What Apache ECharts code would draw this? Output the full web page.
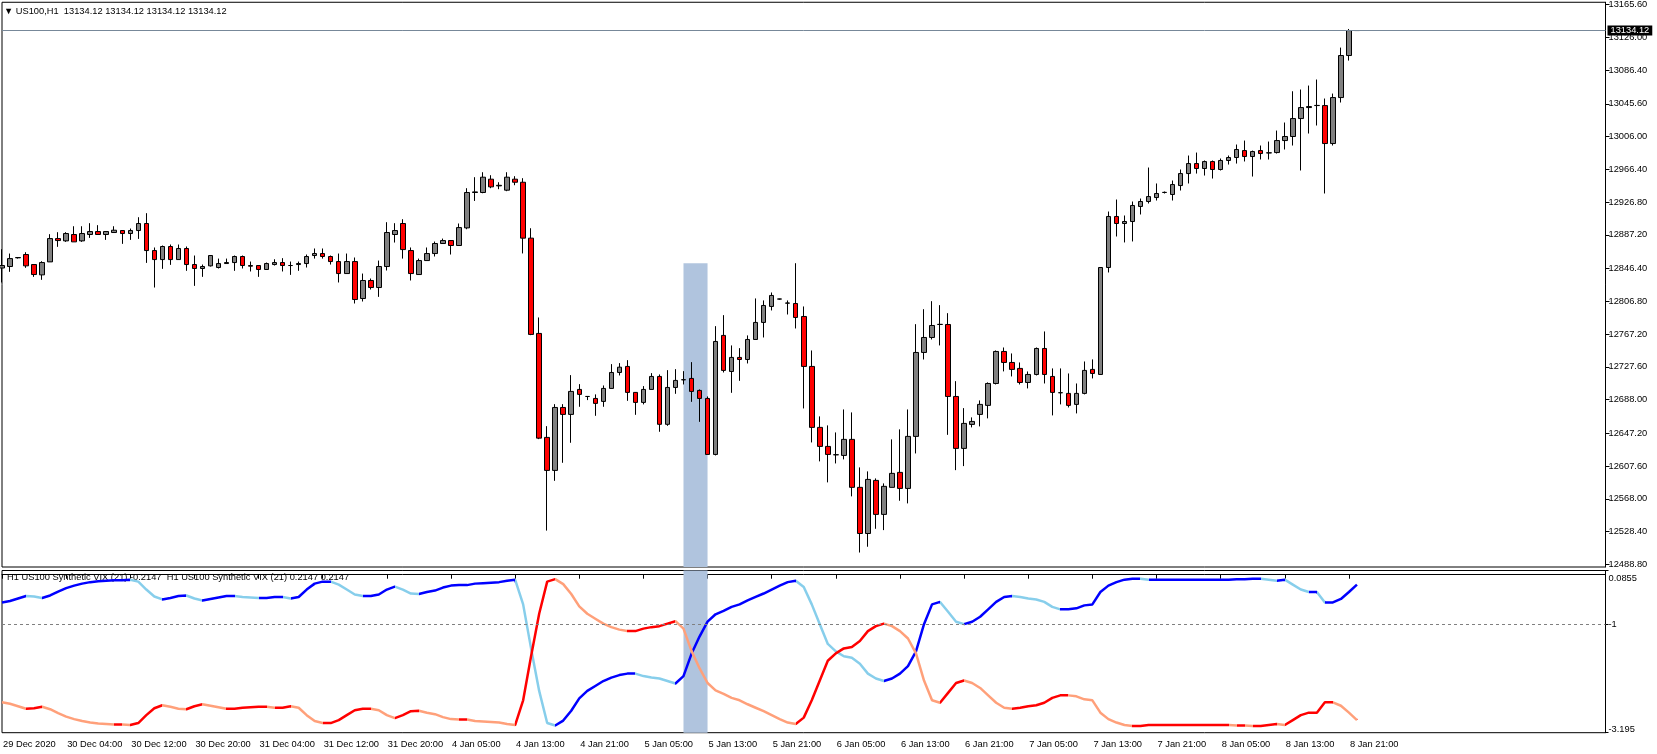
<!DOCTYPE html>
<html><head><meta charset="utf-8">
<script src="https://cdn.jsdelivr.net/npm/echarts@6/dist/echarts.min.js"></script>
<style>html,body{margin:0;padding:0;background:#fff;}#c{width:1657px;height:754px;}</style>
</head><body><div id="c"></div>
<script>
// ---------- data ----------
const timeLabels = ['29 Dec 2020','30 Dec 04:00','30 Dec 12:00','30 Dec 20:00','31 Dec 04:00','31 Dec 12:00','31 Dec 20:00',
  '4 Jan 05:00','4 Jan 13:00','4 Jan 21:00','5 Jan 05:00','5 Jan 13:00','5 Jan 21:00','6 Jan 05:00','6 Jan 13:00',
  '6 Jan 21:00','7 Jan 05:00','7 Jan 13:00','7 Jan 21:00','8 Jan 05:00','8 Jan 13:00','8 Jan 21:00'];
const barsPerLabel = 8;
const totalSlots = 201;

const opens = [12847,12848.8,12859.3,12863.3,12851.2,12838.7,12854.4,12882.6,12879.8,12887.5,
12879.8,12887.5,12891.1,12887.5,12889.9,12892.3,12888.7,12892.3,12900.8,12868.1,
12857.2,12873.0,12857.2,12870.6,12851.2,12846.4,12849.6,12847.6,12852.4,12853.6,
12860.9,12850.0,12850.0,12845.2,12851.2,12853.6,12850.0,12851.2,12852.4,12862.1,
12864.5,12860.9,12854.8,12840.3,12854.8,12810.1,12831.9,12823.4,12848.8,12887.5,
12900.8,12868.1,12839.1,12856.0,12864.5,12876.6,12880.2,12874.2,12895.5,12938.3,
12938.3,12954.4,12946.3,12941.1,12954.4,12950.7,12883.1,12767.9,12642.2,12602.3,
12678.4,12670.0,12700.2,12691.7,12689.3,12685.7,12701.4,12720.7,12728.0,12696.6,
12684.5,12700.2,12715.9,12658.0,12702.6,12711.8,12713.5,12699.0,12689.3,12621.6,
12765.5,12721.9,12738.9,12736.4,12760.6,12781.2,12800.5,12809.4,12804.5,12804.1,
12788.4,12728.0,12654.3,12631.3,12621.1,12620.4,12639.8,12581.8,12526.0,12590.2,
12549.1,12581.8,12599.9,12580.5,12643.4,12744.9,12763.0,12778.7,12778.7,12691.7,
12628.9,12657.9,12670.0,12680.9,12707.4,12746.1,12732.8,12725.6,12708.6,12718.3,
12749.7,12715.9,12696.1,12695.4,12682.1,12695.4,12724.4,12718.3,12847.6,12909.3,
12900.8,12903.2,12921.4,12927.4,12932.2,12938.3,12935.9,12946.7,12961.2,12973.3,
12967.3,12975.7,12966.1,12977.0,12980.6,12989.0,12981.8,12989.0,12986.1,12986.6,
13001.1,13006.0,13027.7,13041.0,13043.4,13043.4,12997.5,13053.1,13103.9,13134.12];
const closes = [12850,12858.4,12859.7,12849.6,12839.1,12853.6,12882.6,12880.2,12888.7,12878.6,
12888.7,12891.1,12887.5,12891.1,12892.7,12888.7,12892.3,12900.8,12868.1,12857.2,
12873.0,12857.2,12870.6,12851.2,12846.4,12848.8,12862.1,12852.4,12853.6,12860.9,
12850.0,12849.2,12845.2,12852.4,12853.6,12850.0,12850.0,12852.4,12860.9,12864.5,
12860.9,12854.8,12840.3,12854.8,12808.9,12831.9,12823.4,12848.8,12889.9,12892.3,
12869.3,12840.3,12856.0,12864.5,12876.6,12880.2,12874.2,12895.9,12938.3,12939.0,
12956.8,12945.1,12947.0,12956.8,12950.7,12883.1,12766.7,12641.3,12602.3,12678.4,
12670.0,12697.8,12694.2,12691.7,12683.3,12701.4,12720.7,12727.1,12696.6,12684.5,
12700.2,12715.9,12658.0,12702.6,12711.1,12712.0,12697.8,12689.3,12621.6,12758.2,
12723.2,12738.9,12736.4,12760.6,12781.2,12801.7,12813.8,12809.6,12804.7,12787.2,
12728.0,12654.3,12631.3,12621.6,12621.3,12639.8,12581.8,12526.0,12591.4,12549.1,
12583.0,12598.7,12580.5,12643.4,12744.9,12763.0,12777.5,12778.9,12691.7,12628.9,
12659.1,12661.5,12682.1,12707.4,12746.1,12732.8,12724.4,12708.6,12718.3,12749.7,
12718.3,12696.6,12696.3,12680.9,12695.4,12723.2,12719.5,12847.6,12909.3,12900.8,
12903.2,12922.6,12927.4,12933.4,12937.1,12938.5,12947.9,12961.2,12973.3,12967.3,
12975.7,12966.1,12977.0,12980.6,12990.3,12981.8,12987.8,12985.4,12986.3,13001.1,
13006.0,13027.7,13041.0,13042.2,13043.6,12997.5,13053.1,13103.9,13134.1,13134.12];
const highs = [12869.7,12864.5,12860.1,12866.1,12851.6,12855.2,12887.9,12890.3,12890.3,12897.5,
12897.5,12901.2,12898.8,12891.5,12897.5,12892.7,12894.7,12908.4,12913.3,12871.8,
12874.2,12875.4,12875.4,12873.0,12862.1,12851.2,12862.5,12858.4,12858.4,12862.1,
12862.1,12854.8,12850.4,12853.6,12857.6,12858.9,12854.8,12854.8,12863.3,12870.6,
12870.6,12862.1,12864.5,12864.5,12859.7,12840.3,12834.3,12856.0,12902.4,12901.2,
12906.0,12871.8,12858.4,12871.8,12879.0,12882.6,12880.6,12900.8,12943.5,12956.8,
12962.8,12959.2,12950.7,12962.8,12958.0,12955.6,12895.1,12787.2,12655.8,12682.4,
12682.4,12717.5,12706.6,12692.1,12694.2,12705.0,12730.8,12732.0,12735.6,12696.9,
12704.2,12719.9,12718.3,12723.5,12724.7,12722.3,12733.2,12700.2,12691.7,12776.7,
12790.0,12753.4,12750.1,12765.5,12810.2,12807.8,12817.4,12809.9,12807.8,12852.8,
12800.5,12747.3,12667.6,12656.7,12648.2,12676.0,12672.4,12605.9,12601.1,12592.6,
12586.6,12639.8,12651.9,12676.0,12779.1,12797.2,12806.9,12802.1,12792.4,12710.2,
12677.6,12666.4,12686.9,12708.7,12747.3,12750.9,12743.7,12732.8,12721.9,12750.9,
12770.3,12725.6,12725.6,12719.5,12707.4,12734.0,12736.5,12848.0,12915.3,12929.8,
12910.5,12927.4,12931.0,12968.5,12949.2,12939.5,12952.8,12966.1,12983.0,12986.6,
12977.0,12977.0,12979.4,12983.0,12996.3,13001.1,12989.0,12995.1,12999.9,13013.2,
13022.9,13060.7,13062.8,13067.6,13074.9,13051.9,13057.9,13113.5,13136.0,13134.12];
const lows = [12829.5,12842.4,12858.4,12847.2,12836.3,12832.7,12854.4,12872.6,12878.6,12878.6,
12878.6,12883.4,12887.1,12881.0,12889.5,12876.2,12881.0,12882.2,12853.2,12823.4,
12846.0,12850.8,12857.2,12843.6,12825.4,12836.3,12848.8,12846.4,12852.0,12843.6,
12846.4,12842.8,12836.3,12845.2,12850.0,12842.8,12838.7,12843.6,12847.6,12858.4,
12858.4,12851.2,12829.5,12840.3,12804.1,12806.5,12821.0,12812.1,12844.0,12877.8,
12858.4,12831.9,12839.1,12856.0,12860.9,12876.2,12863.3,12873.8,12893.9,12928.1,
12937.4,12943.5,12942.3,12939.9,12947.1,12864.6,12765.8,12640.1,12529.5,12589.7,
12611.5,12635.7,12679.2,12687.3,12668.3,12679.2,12701.4,12717.1,12686.4,12669.5,
12682.1,12700.2,12649.0,12656.2,12694.9,12706.2,12685.2,12661.0,12621.6,12620.4,
12720.7,12696.1,12710.6,12731.6,12760.6,12763.0,12795.7,12808.7,12790.8,12773.9,
12677.2,12636.1,12613.2,12587.8,12610.7,12615.6,12570.9,12503.0,12510.0,12531.7,
12530.1,12581.8,12565.6,12562.4,12622.8,12736.4,12760.6,12753.4,12645.3,12602.6,
12607.5,12654.3,12655.5,12665.2,12706.2,12722.0,12715.9,12706.2,12701.4,12717.1,
12707.4,12668.8,12682.1,12678.4,12671.2,12694.2,12713.5,12718.3,12841.6,12885.1,
12877.9,12879.1,12911.7,12925.0,12928.6,12937.1,12928.6,12940.7,12949.2,12961.2,
12958.8,12955.2,12964.9,12972.1,12973.3,12975.8,12957.6,12978.2,12978.2,12985.4,
12990.3,12995.1,12964.9,13009.6,13019.3,12937.1,12995.1,13047.1,13097.8,13134.12];

// Synthetic VIX lines (blue pair and red pair)
const vixBlue = [-0.56,-0.53,-0.48,-0.43,-0.44,-0.47,-0.42,-0.34,-0.27,-0.22,
-0.18,-0.15,-0.13,-0.12,-0.11,-0.11,-0.10,-0.14,-0.30,-0.44,
-0.50,-0.47,-0.43,-0.42,-0.48,-0.52,-0.49,-0.46,-0.43,-0.43,
-0.45,-0.46,-0.47,-0.47,-0.45,-0.45,-0.48,-0.45,-0.30,-0.18,
-0.14,-0.14,-0.20,-0.30,-0.40,-0.43,-0.43,-0.40,-0.30,-0.24,
-0.30,-0.38,-0.39,-0.35,-0.32,-0.26,-0.22,-0.21,-0.21,-0.18,
-0.17,-0.16,-0.15,-0.12,-0.10,-0.60,-1.50,-2.35,-3.00,-3.05,
-2.95,-2.75,-2.50,-2.35,-2.25,-2.15,-2.08,-2.03,-2.00,-2.00,
-2.05,-2.08,-2.10,-2.15,-2.20,-2.05,-1.60,-1.25,-0.95,-0.80,
-0.73,-0.65,-0.60,-0.52,-0.45,-0.38,-0.30,-0.22,-0.15,-0.12,
-0.25,-0.60,-1.00,-1.40,-1.55,-1.65,-1.68,-1.80,-2.00,-2.10,
-2.15,-2.10,-2.00,-1.85,-1.55,-1.00,-0.60,-0.55,-0.75,-0.95,
-1.00,-0.95,-0.85,-0.70,-0.55,-0.45,-0.43,-0.45,-0.48,-0.50,
-0.55,-0.65,-0.70,-0.70,-0.68,-0.62,-0.60,-0.35,-0.22,-0.15,
-0.10,-0.08,-0.08,-0.10,-0.10,-0.10,-0.10,-0.10,-0.10,-0.10,
-0.10,-0.10,-0.10,-0.10,-0.09,-0.09,-0.08,-0.08,-0.10,-0.12,
-0.10,-0.20,-0.30,-0.35,-0.35,-0.56,-0.56,-0.49,-0.35,-0.20];
const vixRed = [-2.58,-2.61,-2.66,-2.71,-2.70,-2.67,-2.72,-2.80,-2.87,-2.92,
-2.96,-2.99,-3.01,-3.02,-3.03,-3.03,-3.04,-3.00,-2.84,-2.70,
-2.64,-2.67,-2.71,-2.72,-2.66,-2.62,-2.65,-2.68,-2.71,-2.71,
-2.69,-2.68,-2.67,-2.67,-2.69,-2.69,-2.66,-2.69,-2.84,-2.96,
-3.00,-3.00,-2.94,-2.84,-2.74,-2.71,-2.71,-2.74,-2.84,-2.90,
-2.84,-2.76,-2.75,-2.79,-2.82,-2.88,-2.92,-2.93,-2.93,-2.96,
-2.97,-2.98,-2.99,-3.02,-3.04,-2.54,-1.64,-0.79,-0.14,-0.09,
-0.19,-0.39,-0.64,-0.79,-0.89,-0.99,-1.06,-1.11,-1.14,-1.14,
-1.09,-1.06,-1.04,-0.99,-0.94,-1.09,-1.54,-1.89,-2.19,-2.34,
-2.41,-2.49,-2.54,-2.62,-2.69,-2.76,-2.84,-2.92,-2.99,-3.02,
-2.89,-2.54,-2.14,-1.74,-1.59,-1.49,-1.46,-1.34,-1.14,-1.04,
-0.99,-1.04,-1.14,-1.29,-1.59,-2.14,-2.54,-2.59,-2.39,-2.19,
-2.14,-2.19,-2.29,-2.44,-2.59,-2.69,-2.71,-2.69,-2.66,-2.64,
-2.59,-2.49,-2.44,-2.44,-2.46,-2.52,-2.54,-2.79,-2.92,-2.99,
-3.04,-3.06,-3.06,-3.04,-3.04,-3.04,-3.04,-3.04,-3.04,-3.04,
-3.04,-3.04,-3.04,-3.04,-3.05,-3.05,-3.06,-3.06,-3.04,-3.02,
-3.04,-2.94,-2.84,-2.79,-2.79,-2.58,-2.58,-2.65,-2.79,-2.94];

const priceTicks = ['12488.80','12528.40','12568.00','12607.60','12647.20','12688.00','12727.60','12767.20','12806.80',
  '12846.40','12887.20','12926.80','12966.40','13006.00','13045.60','13086.40','13126.00','13165.60'];
const vixTicks = ['0.0855','-1','-3.195'];
const lastPrice = 13134.12;
const vixLevel = -1;
const zone = {from: 85, to: 88, top: 12852.8};
const headerText = '\u25BC US100,H1  13134.12 13134.12 13134.12 13134.12';
const vixText = 'H1 US100 Synthetic VIX (21) -0.2147  H1 US100 Synthetic VIX (21) 0.2147 0.2147';

// ---------- build ----------
const FONT = 'Liberation Sans, Arial, sans-serif';
const FS = 9.3;
const categories = [];
for (let i = 0; i < totalSlots; i++) {
  const k = i / barsPerLabel;
  categories.push(i % barsPerLabel === 0 && k < timeLabels.length ? timeLabels[k] : '');
}
const candleData = opens.map((o, i) => [o, closes[i], lows[i], highs[i]]);
const showIdx = (i) => i % barsPerLabel === 0 && i / barsPerLabel < timeLabels.length;

function slopePieces(vals, upC, downC) {
  const p = [];
  let start = 0, dir = vals[1] >= vals[0];
  for (let i = 1; i < vals.length - 1; i++) {
    const d = vals[i + 1] >= vals[i];
    if (d !== dir) { p.push({gte: start, lt: i, color: dir ? upC : downC}); start = i; dir = d; }
  }
  p.push({gte: start, lte: vals.length - 1, color: dir ? upC : downC});
  return p;
}

const pMin = 12485.5, pMax = 13168.3;
const vMin = -3.195, vMax = 0.0855;
const priceVals = priceTicks.map(Number);
const vixVals = vixTicks.map(Number);

const chart = echarts.init(document.getElementById('c'), null, {renderer: 'canvas'});
chart.setOption({
  animation: false,
  backgroundColor: '#fff',
  textStyle: {fontFamily: FONT},
  title: [
    {text: headerText, left: 4, top: 7, padding: 0, textStyle: {fontSize: FS, fontWeight: 'normal', color: '#000', fontFamily: FONT}},
    {text: vixText, left: 7, top: 573, padding: 0, z: 1, textStyle: {fontSize: FS, fontWeight: 'normal', color: '#000', fontFamily: FONT}}
  ],
  grid: [
    {left: 2, top: 2, width: 1603.5, height: 565, show: true, borderColor: '#000', borderWidth: 1, backgroundColor: 'transparent'},
    {left: 2, top: 570.5, width: 1603.5, height: 162.2, show: true, borderColor: '#000', borderWidth: 1, backgroundColor: 'transparent'}
  ],
  xAxis: [
    {type: 'category', gridIndex: 0, data: categories, boundaryGap: false,
     axisLine: {show: false}, axisTick: {show: false}, axisLabel: {show: false}, splitLine: {show: false}},
    {type: 'category', gridIndex: 1, data: categories, boundaryGap: false,
     axisLine: {show: true, lineStyle: {color: '#000', width: 1}},
     axisTick: {show: true, interval: (i) => showIdx(i), length: 4, lineStyle: {color: '#000'}},
     axisLabel: {show: true, interval: (i) => showIdx(i), align: 'left', margin: 7, padding: [0, 0, 0, 1],
       fontSize: FS, color: '#000', fontFamily: FONT},
     splitLine: {show: false}}
  ],
  yAxis: [
    {type: 'value', gridIndex: 0, position: 'right', min: pMin, max: pMax, scale: true,
     axisLine: {show: true, lineStyle: {color: '#000'}},
     axisTick: {show: true, length: 4, customValues: priceVals, lineStyle: {color: '#000'}},
     axisLabel: {show: true, customValues: priceVals, margin: 3, fontSize: FS, color: '#000', fontFamily: FONT,
       formatter: (v) => priceTicks[priceVals.indexOf(v)] ?? v.toFixed(2)},
     splitLine: {show: false}},
    {type: 'value', gridIndex: 1, position: 'right', min: vMin, max: vMax,
     axisLine: {show: true, lineStyle: {color: '#000'}},
     axisTick: {show: true, length: 3, customValues: vixVals, lineStyle: {color: '#000'}},
     axisLabel: {show: true, customValues: vixVals, margin: 3, fontSize: FS, color: '#000', fontFamily: FONT,
       formatter: (v) => {
         const i = vixVals.indexOf(v); const t = vixTicks[i];
         if (i === 0) return '{t|' + t + '}';
         if (i === vixVals.length - 1) return '{b|' + t + '}';
         return t;
       },
       rich: {t: {padding: [16, 0, 0, 0], fontSize: FS, color: '#000', fontFamily: FONT},
              b: {padding: [0, 0, 6, 0], fontSize: FS, color: '#000', fontFamily: FONT}}},
     splitLine: {show: false}}
  ],
  visualMap: [
    {type: 'piecewise', show: false, dimension: 0, seriesIndex: 3, pieces: slopePieces(vixBlue, '#0000FF', '#87CEEB'), outOfRange: {color: '#0000FF'}},
    {type: 'piecewise', show: false, dimension: 0, seriesIndex: 4, pieces: slopePieces(vixRed, '#FF0000', '#FFA07A'), outOfRange: {color: '#FF0000'}}
  ],
  series: [
    {type: 'line', name: 'zoneMain', xAxisIndex: 0, yAxisIndex: 0, data: [], z: 1, silent: true,
     markArea: {silent: true, itemStyle: {color: '#B0C4DE', opacity: 1}, label: {show: false},
       data: [[{xAxis: zone.from, yAxis: zone.top}, {xAxis: zone.to, yAxis: pMin}]]}},
    {type: 'line', name: 'zoneVix', xAxisIndex: 1, yAxisIndex: 1, data: [], z: 1, silent: true,
     markArea: {silent: true, itemStyle: {color: '#B0C4DE', opacity: 1}, label: {show: false},
       data: [[{xAxis: zone.from, yAxis: vMax}, {xAxis: zone.to, yAxis: vMin}]]}},
    {type: 'candlestick', name: 'US100,H1', xAxisIndex: 0, yAxisIndex: 0, data: candleData, z: 3, barWidth: 5,
     itemStyle: {color: '#808080', color0: '#FF0000', borderColor: '#000', borderColor0: '#000', borderWidth: 1},
     markLine: {silent: true, symbol: 'none', animation: false,
       lineStyle: {color: '#778899', width: 1, type: 'solid'},
       label: {show: true, position: 'end', distance: 2, formatter: lastPrice.toFixed(2), backgroundColor: '#000',
         color: '#fff', padding: [1, 3, 0, 3], fontSize: FS, fontFamily: FONT},
       data: [{yAxis: lastPrice}]}},
    {type: 'line', name: 'VIX A', xAxisIndex: 1, yAxisIndex: 1, data: vixBlue, showSymbol: false, z: 4,
     lineStyle: {width: 2.5}, 
     markLine: {silent: true, symbol: 'none', label: {show: false},
       lineStyle: {color: '#808080', width: 1, type: [3, 3]}, data: [{yAxis: vixLevel}]}},
    {type: 'line', name: 'VIX B', xAxisIndex: 1, yAxisIndex: 1, data: vixRed, showSymbol: false, z: 4,
     lineStyle: {width: 2.5}}
  ]
});
</script></body></html>
